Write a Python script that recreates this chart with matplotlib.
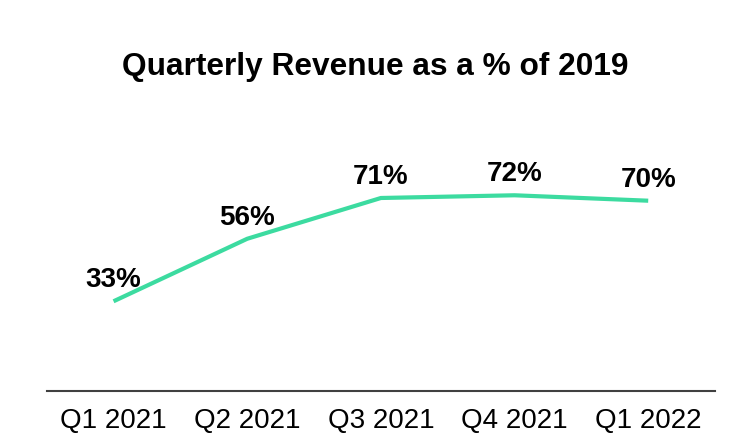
import matplotlib
matplotlib.use("Agg")
import matplotlib.pyplot as plt

# chart data
quarters = ["Q1 2021", "Q2 2021", "Q3 2021", "Q4 2021", "Q1 2022"]
revenue_pct = [33, 56, 71, 72, 70]

plt.rcParams['font.family'] = ['Liberation Sans', 'DejaVu Sans']

fig = plt.figure(figsize=(7.38, 4.42), dpi=100)
ax = fig.add_axes([0.0633, 0.1154, 0.9056, 0.615])

x = list(range(len(quarters)))
ax.plot(x, revenue_pct, color='#3CDBA0', linewidth=3, solid_capstyle='butt')

# value labels above each point
for xi, v in zip(x, revenue_pct):
    ax.annotate(f"{v}%", (xi, v), xytext=(0, 10), textcoords='offset points',
                ha='center', va='baseline', fontsize=20, fontweight='bold')

ax.set_xlim(-0.5, len(quarters) - 0.5)
ax.set_ylim(0, 100)
ax.set_xticks(x)
ax.set_xticklabels(quarters, fontsize=20)
ax.tick_params(axis='x', length=0, pad=12)
ax.set_yticks([])

for side in ['top', 'right', 'left']:
    ax.spines[side].set_visible(False)
ax.spines['bottom'].set_color('#404040')
ax.spines['bottom'].set_linewidth(1.5)

fig.text(375 / 738, 1 - 75 / 442, "Quarterly Revenue as a % of 2019",
         ha='center', va='baseline', fontsize=22.8, fontweight='bold')

plt.savefig('out.png', dpi=100)
